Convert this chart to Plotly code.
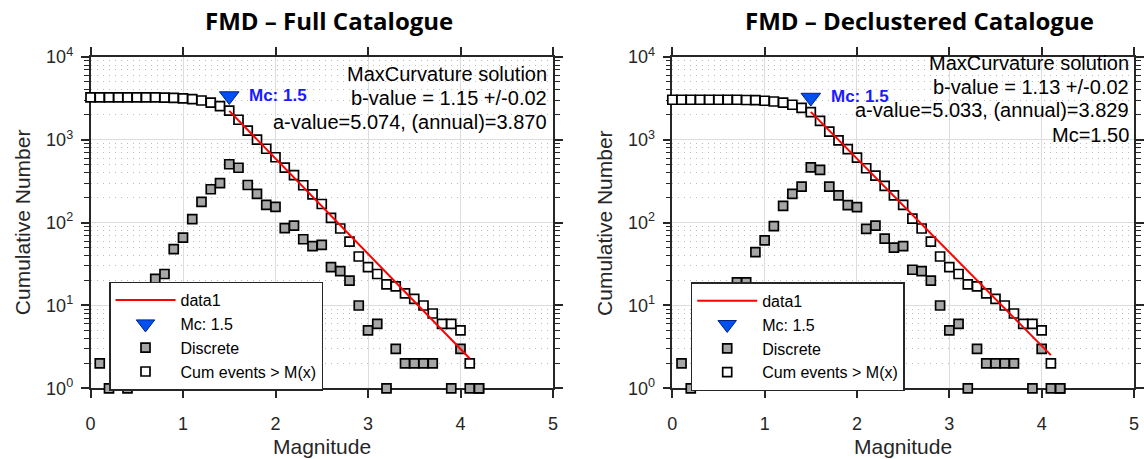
import math
import plotly.graph_objects as go

W, H = 1144, 459

# ---------------- data ----------------
magnitude = [0.0, 0.1, 0.2, 0.3, 0.4, 0.5, 0.6, 0.7, 0.8, 0.9,
             1.0, 1.1, 1.2, 1.3, 1.4, 1.5, 1.6, 1.7, 1.8, 1.9,
             2.0, 2.1, 2.2, 2.3, 2.4, 2.5, 2.6, 2.7, 2.8, 2.9,
             3.0, 3.1, 3.2, 3.3, 3.4, 3.5, 3.6, 3.7, 3.8, 3.9,
             4.0, 4.1, 4.2]

discrete_full = [None, 2, 1, None, 1, None, None, 21, 24, 48,
                 66, 110, 178, 253, 300, 507, 460, 285, 223, 164,
                 155, 86, 92, 63, 52, 54, 29, 26, 20, 10,
                 5, 6, 1, 3, 2, 2, 2, 2, None, 1,
                 3, 1, 1]
cum_full = [3259, 3259, 3257, 3256, 3256, 3255, 3255, 3255, 3234, 3210,
            3162, 3096, 2986, 2808, 2555, 2255, 1748, 1288, 1003, 780,
            616, 461, 375, 283, 220, 168, 114, 85, 59, 39,
            29, 24, 18, 17, 14, 12, 10, 8, 6, 6,
            5, 2, 1]

discrete_decl = [None, 2, 1, None, None, None, None, 19, 19, 44,
                 61, 91, 159, 223, 272, 466, 434, 272, 214, 163,
                 154, 84, 92, 64, 50, 52, 27, 26, 20, 10,
                 5, 6, 1, 3, 2, 2, 2, 2, None, 1,
                 3, 1, 1]
cum_decl = [3048, 3048, 3046, 3045, 3045, 3045, 3045, 3045, 3026, 3007,
            2963, 2902, 2811, 2652, 2429, 2157, 1691, 1257, 985, 771,
            608, 454, 370, 278, 214, 164, 112, 85, 59, 39,
            29, 24, 18, 17, 14, 12, 10, 8, 6, 6,
            5, 2, 1]

mc_value = 1.5
mc_label = "Mc: 1.5"
mc_y_full = 3380
mc_y_decl = 3240
fit_range = [1.5, 4.1]
a_full, b_full = 5.074, 1.15
a_decl, b_decl = 5.033, 1.13

titles = ["FMD – Full Catalogue", "FMD – Declustered Catalogue"]
info_full = ["MaxCurvature solution", "b-value = 1.15 +/-0.02",
             "a-value=5.074, (annual)=3.870"]
info_decl = ["MaxCurvature solution", "b-value = 1.13 +/-0.02",
             "a-value=5.033, (annual)=3.829", "Mc=1.50"]
x_ticks = [0, 1, 2, 3, 4, 5]
y_tickvals = [1, 10, 100, 1000, 10000]
y_ticktext = ["10<sup>0</sup>", "10<sup>1</sup>", "10<sup>2</sup>",
              "10<sup>3</sup>", "10<sup>4</sup>"]

# ---------------- styling ----------------
FONT = "Arial, Liberation Sans, sans-serif"
AX = "#262626"
GRAY_FILL = "#a6a6a6"


def px_x(p):
    return p / W


def px_y(p):
    return (H - p) / H


plot_top, plot_bot = 57, 388.3
panels = [
    dict(x0=90.5, x1=553, xa="x", ya="y", legend="legend",
         disc=discrete_full, cum=cum_full, mcy=mc_y_full, a=a_full, b=b_full,
         title=titles[0], title_x=329, info=info_full, info_right=549,
         info_y=[74, 98, 122.5], leg_x=109, leg_y=281.7),
    dict(x0=672.3, x1=1134, xa="x2", ya="y2", legend="legend2",
         disc=discrete_decl, cum=cum_decl, mcy=mc_y_decl, a=a_decl, b=b_decl,
         title=titles[1], title_x=919, info=info_decl, info_right=1131,
         info_y=[62.5, 86.5, 110.5, 135], leg_x=690.7, leg_y=282.3),
]

fig = go.Figure()
annotations = []
minor_y = [k * 10 ** n for n in range(4) for k in range(2, 10)]

for i, p in enumerate(panels):
    fit_y = [10 ** (p["a"] - p["b"] * m) for m in fit_range]
    fig.add_trace(go.Scatter(
        x=magnitude, y=p["cum"], mode="markers", name="Cum events > M(x)",
        xaxis=p["xa"], yaxis=p["ya"], legend=p["legend"], legendrank=4,
        cliponaxis=False,
        marker=dict(symbol="square", size=9, color="white",
                    line=dict(color="black", width=1.7))))
    fig.add_trace(go.Scatter(
        x=magnitude, y=p["disc"], mode="markers", name="Discrete",
        xaxis=p["xa"], yaxis=p["ya"], legend=p["legend"], legendrank=3,
        cliponaxis=False,
        marker=dict(symbol="square", size=9, color=GRAY_FILL,
                    line=dict(color="black", width=1.7))))
    fig.add_trace(go.Scatter(
        x=fit_range, y=fit_y, mode="lines", name="data1",
        xaxis=p["xa"], yaxis=p["ya"], legend=p["legend"], legendrank=1,
        line=dict(color="#ff0000", width=2)))
    fig.add_trace(go.Scatter(
        x=[mc_value], y=[p["mcy"]], mode="markers", name=mc_label,
        xaxis=p["xa"], yaxis=p["ya"], legend=p["legend"], legendrank=2,
        cliponaxis=False,
        marker=dict(symbol="triangle-down", size=17, color="#0050f0",
                    line=dict(color="#00208a", width=1))))
    # Mc label next to the triangle
    annotations.append(dict(
        text="<b>" + mc_label + "</b>", x=mc_value, y=math.log10(p["mcy"]),
        xref=p["xa"], yref=p["ya"], xanchor="left", yanchor="middle",
        xshift=18, yshift=1, showarrow=False,
        font=dict(family=FONT, size=17, color="#1a1aff")))

    # title
    annotations.append(dict(
        text="<b>" + p["title"] + "</b>", x=px_x(p["title_x"]), y=px_y(21),
        xref="paper", yref="paper", xanchor="center", yanchor="middle",
        showarrow=False, font=dict(family="Open Sans, sans-serif",
                                   size=24, color="black")))
    # info text
    for line, yy in zip(p["info"], p["info_y"]):
        annotations.append(dict(
            text=line, x=px_x(p["info_right"]), y=px_y(yy),
            xref="paper", yref="paper", xanchor="right", yanchor="middle",
            showarrow=False, font=dict(family=FONT, size=20, color="black")))
    # axis titles
    annotations.append(dict(
        text="Magnitude", x=px_x((p["x0"] + p["x1"]) / 2), y=px_y(446),
        xref="paper", yref="paper", xanchor="center", yanchor="middle",
        showarrow=False, font=dict(family=FONT, size=21, color=AX)))
    annotations.append(dict(
        text="Cumulative Number", x=px_x(p["x0"] - 68), y=px_y((plot_top + plot_bot) / 2),
        xref="paper", yref="paper", xanchor="center", yanchor="middle",
        textangle=-90, showarrow=False, font=dict(family=FONT, size=21, color=AX)))

    xkey = "xaxis" if i == 0 else "xaxis2"
    ykey = "yaxis" if i == 0 else "yaxis2"
    fig.layout[xkey] = dict(
        domain=[px_x(p["x0"]), px_x(p["x1"])], range=[0, 5],
        anchor=p["ya"], tickvals=x_ticks, ticks="outside", ticklen=8,
        tickwidth=1.5, tickcolor=AX, showline=True, linecolor=AX, linewidth=1.5,
        mirror="ticks", showgrid=True, gridcolor="#dddddd", gridwidth=1,
        zeroline=False, layer="below traces", ticklabelstandoff=10,
        automargin=False,
        tickfont=dict(family=FONT, size=18, color=AX))
    fig.layout[ykey] = dict(
        domain=[px_y(plot_bot), px_y(plot_top)], type="log", range=[0, 4],
        anchor=p["xa"], tickvals=y_tickvals, ticktext=y_ticktext,
        ticks="outside", ticklen=8, tickwidth=1.5, tickcolor=AX,
        showline=True, linecolor=AX, linewidth=1.5, mirror="ticks",
        showgrid=True, gridcolor="#dddddd", gridwidth=1, zeroline=False,
        layer="below traces", ticklabelstandoff=4, automargin=False,
        minor=dict(tickvals=minor_y, ticks="outside", ticklen=5, tickwidth=1,
                   tickcolor=AX, showgrid=True, gridcolor="#bdbdbd",
                   griddash="1px,5px", gridwidth=1),
        tickfont=dict(family=FONT, size=18, color=AX))

    fig.layout[p["legend"]] = dict(
        x=px_x(p["leg_x"]), y=px_y(p["leg_y"]), xanchor="left", yanchor="top",
        bgcolor="white", bordercolor=AX, borderwidth=1.5, itemwidth=60,
        font=dict(family=FONT, size=16, color="black"))

fig.update_layout(
    width=W, height=H, margin=dict(l=0, r=0, t=0, b=0, autoexpand=False),
    paper_bgcolor="white", plot_bgcolor="white",
    showlegend=True, annotations=annotations)

fig.write_html("out.html")
